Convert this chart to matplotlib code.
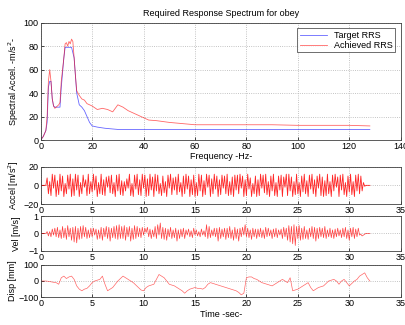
import numpy as np
import matplotlib
matplotlib.use("Agg")
import matplotlib.pyplot as plt

plt.rcParams['font.family'] = ['Liberation Sans', 'DejaVu Sans']
plt.rcParams['font.size'] = 6.5

# response spectrum
freq_target = [0, 1, 2, 2.5, 3, 3.5, 4, 4.5, 5, 5.5, 6, 7, 7.5, 8, 9, 9.5, 10, 12, 13,
               13.5, 14, 15, 16, 17, 18, 19, 20, 22, 25, 30, 40, 128]
rrs_target = [0, 3, 8, 15, 45, 50, 50, 35, 29, 28, 28, 28, 28, 45, 70, 79, 79, 79, 70,
              55, 40, 30, 28, 25, 20, 15, 12, 11, 10, 9, 9, 9]
freq_achieved = [0, 1, 2, 2.5, 3, 3.5, 4, 4.5, 5, 5.5, 6, 7, 7.5, 8, 9, 9.5, 10, 10.5, 11,
                 11.5, 12, 12.5, 13, 13.5, 14, 15, 16, 17, 18, 20, 22, 24, 26, 28, 29, 30,
                 32, 34, 36, 38, 40, 42, 45, 50, 60, 80, 90, 100, 120, 128]
rrs_achieved = [0, 3, 8, 20, 50, 60, 50, 35, 29, 27, 28, 30, 32, 50, 70, 82, 83, 80, 84,
                82, 86, 84, 70, 55, 42, 38, 35, 34, 31, 29, 26, 27, 26, 24, 27, 30,
                28, 25, 23, 21, 19, 17, 16.5, 15, 13, 13, 13, 12.5, 12.5, 12]

# time histories (one row = one second)
dt_acc = 0.125
accel = [
    0, 0, 0, 0, 0, 8, -9, 4,
    -11, 12, -3, 11, -12, 5, -10, 12,
    -6, 10, -12, 2, -9, 11, -4, 12,
    -12, 7, -11, 12, -5, 11, -12, 3,
    -9, 11, -2, 6, -11, 12, -9, 4,
    -7, 12, -5, 10, -12, 3, -9, 12,
    -10, 6, -11, 9, -2, 10, -8, 11,
    -9, 3, -12, 11, -6, 12, -10, 5,
    -11, 4, -6, 7, -3, 12, -11, 2,
    -12, 11, -4, 12, -10, 6, -11, 12,
    -3, 11, -12, 7, -11, 12, -5, 9,
    -12, 12, -6, 11, -9, 2, -11, 10,
    -8, 4, -12, 11, -3, 12, -10, 8,
    -5, 9, -10, 12, -7, 3, -12, 10,
    -9, 12, -4, 10, -12, 6, -10, 11,
    -12, 3, -11, 12, -6, 11, -12, 5,
    -10, 12, -2, 11, -12, 7, -9, 12,
    -4, 10, -12, 6, -10, 11, -3, 10,
    -9, 12, -11, 4, -10, 9, -12, 11,
    -5, 11, -9, 12, -3, 10, -12, 6,
    -11, 12, -4, 8, -12, 2, -9, 10,
    -12, 6, -11, 12, -3, 11, -8, 12,
    -10, 4, -12, 10, -6, 12, -11, 3,
    -12, 10, -5, 11, -12, 9, -2, 12,
    -11, 12, -6, 9, -12, 4, -10, 12,
    -9, 3, -12, 10, -7, 12, -9, 5,
    -12, 11, -4, 12, -9, 6, -12, 10,
    -3, 12, -11, 9, -12, 5, -11, 12,
    -9, 4, -12, 11, -6, 12, -2, 9,
    -12, 11, -5, 12, -10, 3, -12, 10,
    -7, 12, -10, 4, -12, 11, -6, 12,
    -9, 10, -6, 3, -1, 0, 0, 0,
    0]

dt_vel = 0.125
vel = [
    0, 0, 0, 0, 0, 0.1, -0.15, 0.1,
    -0.2, 0.25, -0.1, 0.3, -0.2, 0.35, -0.25, 0.2,
    -0.3, 0.4, -0.25, 0.3, -0.35, 0.45, -0.2, 0.3,
    -0.4, 0.35, -0.5, 0.4, -0.55, 0.3, -0.35, 0.4,
    -0.3, 0.45, -0.2, 0.35, -0.3, 0.2, -0.25, 0.3,
    -0.2, 0.3, -0.1, 0.25, -0.35, 0.2, -0.3, 0.35,
    -0.4, 0.3, -0.2, 0.4, -0.3, 0.35, -0.45, 0.3,
    -0.25, 0.4, -0.3, 0.45, -0.35, 0.5, -0.3, 0.4,
    -0.3, 0.45, -0.4, 0.35, -0.2, 0.4, -0.45, 0.3,
    -0.35, 0.45, -0.3, 0.4, -0.2, 0.3, -0.25, 0.35,
    -0.1, 0.3, 0.05, 0.35, -0.2, 0.25, -0.3, 0.2,
    -0.2, 0.4, -0.3, 0.5, -0.1, 0.6, -0.3, 0.35,
    -0.35, 0.3, -0.4, 0.25, -0.2, 0.35, -0.3, 0.2,
    -0.25, 0.3, -0.45, 0.2, -0.3, 0.25, -0.2, 0.3,
    -0.3, 0.2, -0.1, 0.25, -0.2, 0.15, -0.25, 0.3,
    -0.1, 0.2, -0.15, 0.1, -0.2, 0.25, -0.1, 0.15,
    -0.2, 0.5, -0.3, 0.4, -0.25, 0.2, -0.15, 0.3,
    -0.2, 0.3, -0.45, 0.35, -0.3, 0.25, -0.2, 0.3,
    -0.35, 0.3, -0.25, 0.4, -0.3, 0.2, -0.4, 0.35,
    -0.3, 0.25, -0.45, 0.3, -0.2, 0.35, -0.1, 0.5,
    -0.2, 0.3, -0.25, 0.2, -0.35, 0.3, -0.2, 0.25,
    -0.3, 0.25, -0.2, 0.3, -0.25, 0.2, -0.3, 0.35,
    -0.2, 0.3, -0.15, 0.2, -0.3, 0.25, -0.2, 0.3,
    -0.25, 0.2, -0.1, 0.25, -0.3, 0.35, -0.2, 0.3,
    -0.4, 0.45, -0.5, 0.4, -0.6, 0.5, -0.7, 0.4,
    -0.3, 0.45, -0.4, 0.3, -0.35, 0.4, -0.3, 0.2,
    -0.35, 0.3, -0.2, 0.4, -0.3, 0.35, -0.45, 0.3,
    -0.3, 0.35, -0.2, 0.3, -0.25, 0.4, -0.3, 0.2,
    -0.2, 0.3, -0.25, 0.2, -0.3, 0.25, -0.2, 0.3,
    -0.15, 0.2, -0.25, 0.3, -0.2, 0.35, -0.3, 0.2,
    -0.4, 0.3, -0.2, 0.35, -0.3, 0.25, -0.2, 0.3,
    -0.1, -0.05, -0.15, -0.1, -0.05, 0, 0, 0,
    0]

dt_disp = 0.25
disp = [
    0, 0, 0, -2,
    -5, -8, -10, -20,
    20, 30, 15, 25,
    30, 10, -30, -50,
    -60, -50, -45, -30,
    -10, 0, 5, 10,
    30, -20, -60, -50,
    -40, -20, 0, 15,
    30, 20, 10, 0,
    -10, -25, -40, -55,
    -60, -40, -30, -25,
    -20, 10, 40, 30,
    20, 0, -20, -25,
    -30, -40, -50, -60,
    -75, -60, -50, -45,
    -40, -45, -45, -50,
    -40, -20, -10, -15,
    -20, -25, -30, -35,
    -40, -45, -50, -55,
    -60, -70, -85, -75,
    20, 25, 25, 15,
    10, 0, -10, -15,
    -20, -25, -30, -20,
    -10, 0, 10, 0,
    -10, 20, -60, -55,
    -50, -40, -30, -20,
    -10, -40, -60, -50,
    -40, -35, -30, -15,
    0, 5, 10, 0,
    -20, 0, 10, -10,
    -30, -15, 0, 10,
    30, 40, 50, 20,
    0]

t_acc = np.arange(len(accel)) * dt_acc
t_vel = np.arange(len(vel)) * dt_vel
t_disp = np.arange(len(disp)) * dt_disp

fig = plt.figure(figsize=(4.06, 3.25), dpi=100)
W, H = 406.0, 325.0


def make_axes(top, bottom):
    # pixel rows -> figure fraction
    return fig.add_axes([40.7 / W, 1 - bottom / H, 360 / W, (bottom - top) / H])


def style(ax):
    ax.grid(True, linestyle=':', color='#b0b0b0', linewidth=0.6)
    ax.tick_params(direction='in', length=2.5, width=0.5, pad=1.5, labelsize=6.5)
    for s in ax.spines.values():
        s.set_linewidth(0.6)
        s.set_color('#404040')


ax1 = make_axes(22.7, 140)
ax1.plot(freq_target, rrs_target, color='#0000ff', linewidth=0.6, label='Target RRS', alpha=0.6)
ax1.plot(freq_achieved, rrs_achieved, color='#ff0000', linewidth=0.6, label='Achieved RRS', alpha=0.6)
ax1.set_xlim(0, 140)
ax1.set_ylim(0, 100)
ax1.set_xticks(range(0, 141, 20))
ax1.set_yticks(range(0, 101, 20))
ax1.set_title('Required Response Spectrum for obey', fontsize=6.5, pad=5)
ax1.set_xlabel('Frequency -Hz-', labelpad=1)
ax1.set_ylabel('Spectral Accel. -m/s$^2$-', labelpad=2)
leg = ax1.legend(loc='upper right', fontsize=6.5, frameon=True, fancybox=False,
                 borderpad=0.3, handlelength=3, labelspacing=0.1, borderaxespad=0.6)
leg.get_frame().set_edgecolor('black')
leg.get_frame().set_linewidth(0.5)
style(ax1)

ax2 = make_axes(166.7, 204)
ax2.plot(t_acc, accel, color='#ff0000', linewidth=0.6, alpha=0.85)
ax2.set_xlim(0, 35)
ax2.set_ylim(-20, 20)
ax2.set_xticks(range(0, 36, 5))
ax2.set_yticks([-20, 0, 20])
ax2.set_ylabel('Accel [m/s$^2$]', labelpad=2)
style(ax2)

ax3 = make_axes(216, 250.7)
ax3.plot(t_vel, vel, color='#ff0000', linewidth=0.5, alpha=0.75)
ax3.set_xlim(0, 35)
ax3.set_ylim(-1, 1)
ax3.set_xticks(range(0, 36, 5))
ax3.set_yticks([-1, 0, 1])
ax3.set_ylabel('Vel [m/s]', labelpad=5)
style(ax3)

ax4 = make_axes(264.7, 297.3)
ax4.plot(t_disp, disp, color='#ff0000', linewidth=0.5, alpha=0.6)
ax4.set_xlim(0, 35)
ax4.set_ylim(-100, 100)
ax4.set_xticks(range(0, 36, 5))
ax4.set_yticks([-100, 0, 100])
ax4.set_xlabel('Time -sec-', labelpad=1)
ax4.set_ylabel('Disp [mm]', labelpad=1)
style(ax4)

fig.savefig('out.png', dpi=100)
